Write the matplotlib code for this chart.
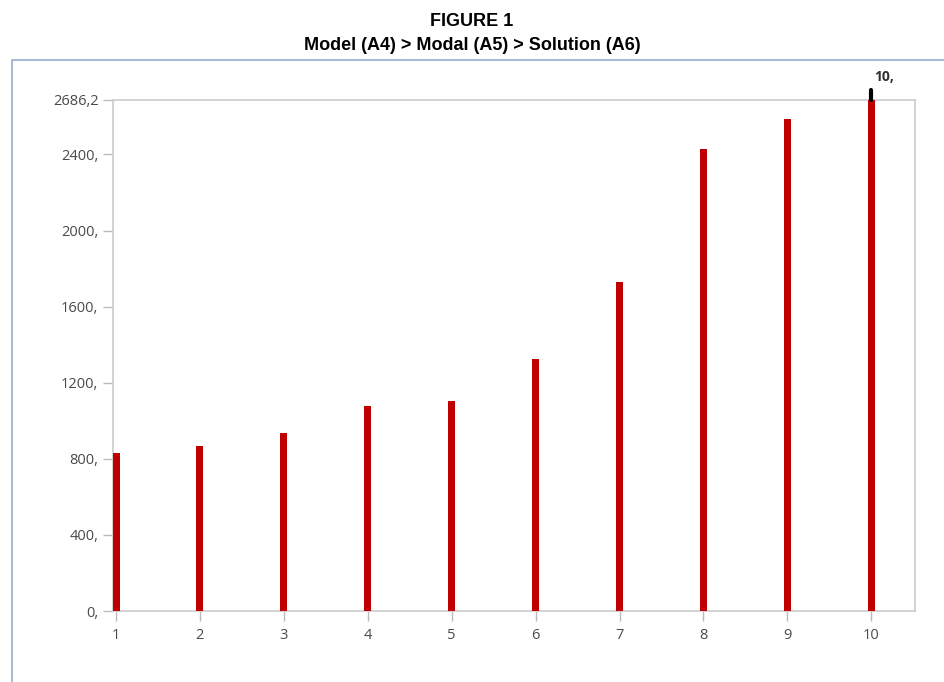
import matplotlib.pyplot as plt
from matplotlib.patches import Rectangle

# mode number vs frequency
modes = [1, 2, 3, 4, 5, 6, 7, 8, 9, 10]
freq = [832, 865, 938, 1079, 1104, 1326, 1728, 2426, 2584, 2686.2]
yticks = [0, 400, 800, 1200, 1600, 2000, 2400, 2686.2]
ylabels = ['0,', '400,', '800,', '1200,', '1600,', '2000,', '2400,', '2686,2']

plt.rcParams['font.family'] = ['Open Sans', 'DejaVu Sans']

fig = plt.figure(figsize=(9.44, 6.82), dpi=100)
ax = fig.add_axes([0.1197, 0.1041, 0.8496, 0.7493])

# outer frame of the panel (runs off the right and bottom edges)
fig.patches.append(Rectangle((12/944, -0.05), 1.0, 1 - 60/682 + 0.05,
                             transform=fig.transFigure, fill=False,
                             edgecolor='#a9bcd6', linewidth=1.5))

ax.bar(modes, freq, width=0.085, color='#c00000', zorder=3)

# probe marker on the last mode
ax.plot([modes[-1], modes[-1]], [freq[-1], freq[-1] + 55], color='black',
        linewidth=3, solid_capstyle='round', clip_on=False, zorder=4)
ax.text(modes[-1] + 0.03, freq[-1] + 85, '10,', fontsize=10,
        fontweight='bold', color='#303030', ha='left', va='bottom')

ax.set_xlim(0.965, 10.52)
ax.set_ylim(0, 2686.2)
ax.set_xticks(modes)
ax.set_xticklabels([str(m) for m in modes])
ax.set_yticks(yticks)
ax.set_yticklabels(ylabels)

for s in ax.spines.values():
    s.set_color('#cccccc')
    s.set_linewidth(1.2)
ax.tick_params(colors='#bbbbbb', labelcolor='#4a4a4a', labelsize=10.5,
               length=7, width=1)
ax.tick_params(axis='x', pad=5)

fig.text(0.5, 1 - 22/682, 'FIGURE 1', ha='center', va='center',
         fontsize=13, fontweight='bold',
         family=['Liberation Sans Narrow', 'Liberation Sans', 'DejaVu Sans'])
fig.text(0.5, 1 - 46/682, 'Model (A4) > Modal (A5) > Solution (A6)',
         ha='center', va='center', fontsize=13, fontweight='bold',
         family=['Liberation Sans Narrow', 'Liberation Sans', 'DejaVu Sans'])

fig.savefig('out.png', dpi=100)
